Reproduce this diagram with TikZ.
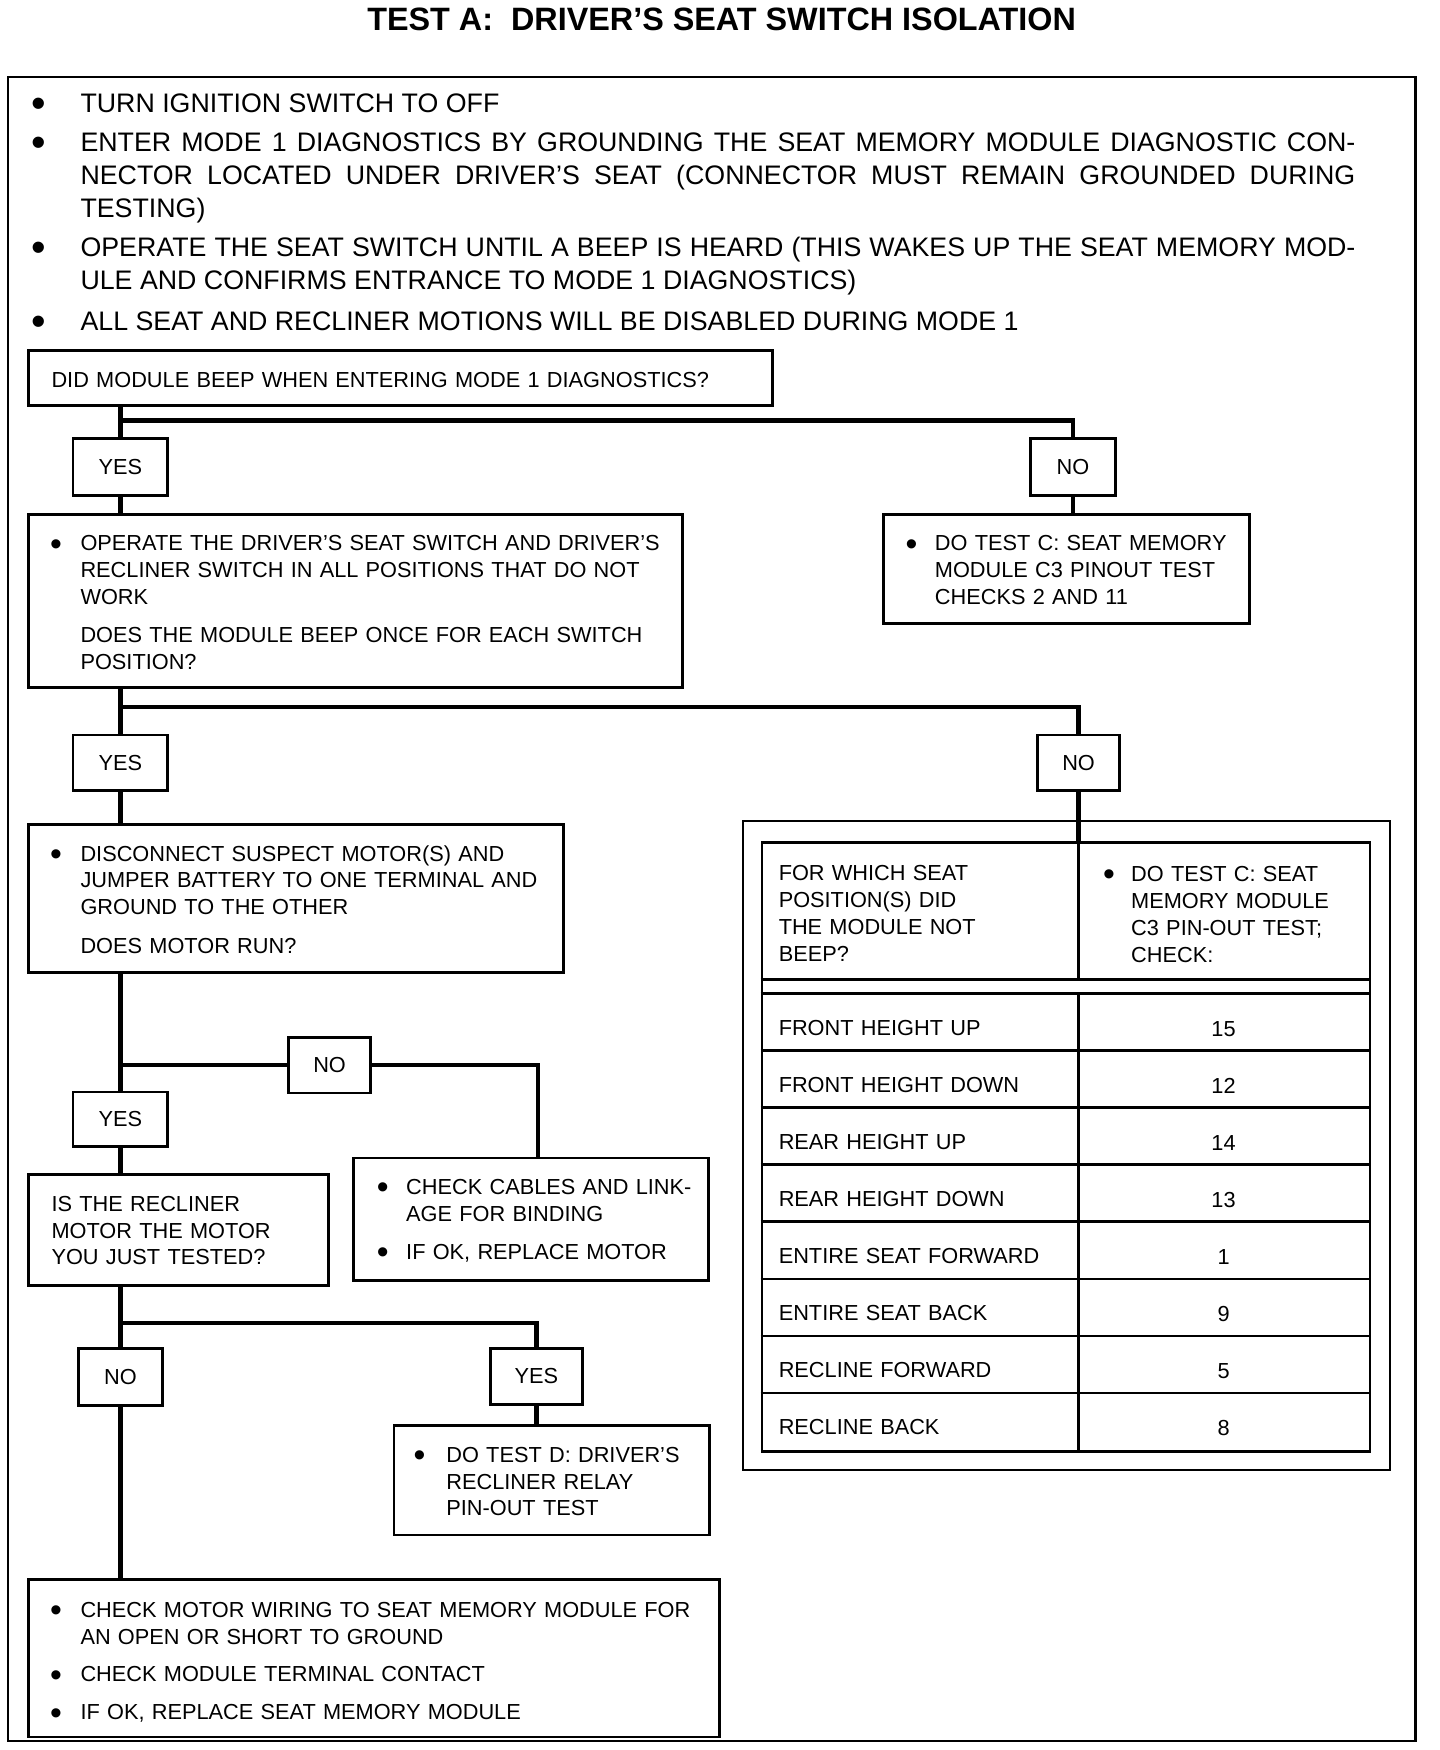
\documentclass[tikz,border=0pt]{standalone}
\usepackage{fontspec}
\usepackage{graphicx}
\setmainfont{Liberation Sans}
\hyphenpenalty=10000
\newcommand\bul[1]{\llap{\makebox[0pt][c]{\raisebox{-0.19em}{\scalebox{1.55}{•}}}\hspace{#1}}}
\begin{document}
\begin{tikzpicture}[x=1pt,y=-1pt,
  frame/.style={draw, line width=2pt, anchor=north west, inner sep=0pt},
  box/.style={draw, line width=2.5pt, anchor=north west, inner sep=0pt},
  lab/.style={draw, line width=2.5pt, anchor=center, inner sep=0pt, font=\fontsize{19.5}{24}\selectfont},
  txt/.style={anchor=base west, inner sep=0pt, text width=#1, align=left, font=\fontsize{19.5}{24}\selectfont},
  txt/.default=600pt,
  body/.style={anchor=base west, inner sep=0pt, text width=1143pt, align=justify, font=\fontsize{24}{29.5}\selectfont},
  conn/.style={line width=4pt},
  tline/.style={line width=2.5pt},
]
\useasboundingbox (0,0) rectangle (1291,1569);

% title
\node[anchor=base, inner sep=0pt, font=\fontsize{29}{34}\selectfont\bfseries] (title) at (647,27) {TEST A:\ \ DRIVER’S SEAT SWITCH ISOLATION};

% page frame
\node[frame, minimum width=1262, minimum height=1492] (page) at (6,68) {};

% introductory bullets
\node[body] (p1) at (72,101) {\bul{37pt}TURN IGNITION SWITCH TO OFF};
\node[body] (p2) at (72,136) {\bul{37pt}ENTER MODE 1 DIAGNOSTICS BY GROUNDING THE SEAT MEMORY MODULE DIAGNOSTIC CON-\linebreak NECTOR LOCATED UNDER DRIVER’S SEAT (CONNECTOR MUST REMAIN GROUNDED DURING\linebreak TESTING)};
\node[body] (p3) at (72,230) {\bul{37pt}OPERATE THE SEAT SWITCH UNTIL A BEEP IS HEARD (THIS WAKES UP THE SEAT MEMORY MOD-\linebreak ULE AND CONFIRMS ENTRANCE TO MODE 1 DIAGNOSTICS)};
\node[body] (p4) at (72,296) {\bul{37pt}ALL SEAT AND RECLINER MOTIONS WILL BE DISABLED DURING MODE 1};

% boxes
\node[box, minimum width=667, minimum height=49] (q1) at (24,313) {};
\node[txt] (q1t) at (46,347) {DID MODULE BEEP WHEN ENTERING MODE 1 DIAGNOSTICS?};

\node[box, minimum width=587, minimum height=155] (b2) at (24,460) {};
\node[txt] (b2t) at (72,494) {\bul{22pt}OPERATE THE DRIVER’S SEAT SWITCH AND DRIVER’S\\RECLINER SWITCH IN ALL POSITIONS THAT DO NOT\\WORK\\[10pt]DOES THE MODULE BEEP ONCE FOR EACH SWITCH\\POSITION?};

\node[box, minimum width=328, minimum height=98] (c1) at (791,460) {};
\node[txt=400pt] (c1t) at (838,494) {\bul{21pt}DO TEST C: SEAT MEMORY\\MODULE C3 PINOUT TEST\\CHECKS 2 AND 11};

\node[box, minimum width=480, minimum height=133] (b3) at (24,738) {};
\node[txt] (b3t) at (72,772) {\bul{22pt}DISCONNECT SUSPECT MOTOR(S) AND\\JUMPER BATTERY TO ONE TERMINAL AND\\GROUND TO THE OTHER\\[11pt]DOES MOTOR RUN?};

\node[box, minimum width=269, minimum height=99] (b4) at (24,1052) {};
\node[txt=400pt] (b4t) at (46,1086) {IS THE RECLINER\\MOTOR THE MOTOR\\YOU JUST TESTED?};

\node[box, minimum width=318, minimum height=110] (k1) at (316,1037) {};
\node[txt=400pt] (k1t) at (364,1071) {\bul{21pt}CHECK CABLES AND LINK-\\AGE FOR BINDING};
\node[txt=400pt] (k1u) at (364,1129) {\bul{21pt}IF OK, REPLACE MOTOR};

\node[box, minimum width=283, minimum height=98] (d1) at (352,1277) {};
\node[txt=400pt] (d1t) at (400,1311) {\bul{24pt}DO TEST D: DRIVER’S\\RECLINER RELAY\\PIN-OUT TEST};

\node[box, minimum width=620, minimum height=141] (f1) at (24,1415) {};
\node[txt] (f1t) at (72,1450) {\bul{22pt}CHECK MOTOR WIRING TO SEAT MEMORY MODULE FOR\\AN OPEN OR SHORT TO GROUND};
\node[txt] (f1u) at (72,1508) {\bul{22pt}CHECK MODULE TERMINAL CONTACT};
\node[txt] (f1v) at (72,1542) {\bul{22pt}IF OK, REPLACE SEAT MEMORY MODULE};

% yes / no labels
\node[lab, minimum width=85, minimum height=51] (y1) at (108,418.5) {YES};
\node[lab, minimum width=76, minimum height=51] (n1) at (962,418.5) {NO};
\node[lab, minimum width=85, minimum height=50] (y2) at (108,684) {YES};
\node[lab, minimum width=73, minimum height=50] (n2) at (967,684) {NO};
\node[lab, minimum width=73, minimum height=50] (n3) at (295.5,955) {NO};
\node[lab, minimum width=85, minimum height=49] (y3) at (108,1003.5) {YES};
\node[lab, minimum width=75, minimum height=51] (n4) at (108,1234.5) {NO};
\node[lab, minimum width=83, minimum height=50] (y4) at (481,1234) {YES};

% table
\node[frame, minimum width=580, minimum height=582] (tout) at (665,735) {};
\node[box, minimum width=545, minimum height=546] (tin) at (682,754) {};
\draw[tline] (967,754) -- (967,878);
\draw[tline] (967,891) -- (967,1300);
\draw[tline] (682,878) -- (1227,878);
\foreach \i in {0,...,7} {
  \draw[tline] (682,{891+51.125*\i}) -- (1227,{891+51.125*\i});
}
\node[txt=260pt, font=\fontsize{19.5}{24.3}\selectfont] (th1) at (698,789) {FOR WHICH SEAT\\POSITION(S) DID\\THE MODULE NOT\\BEEP?};
\node[txt=260pt, font=\fontsize{19.5}{24.3}\selectfont] (th2) at (1014,790) {\bul{20pt}DO TEST C: SEAT\\MEMORY MODULE\\C3 PIN-OUT TEST;\\CHECK:};
\foreach \t/\n [count=\i from 0] in {FRONT HEIGHT UP/15, FRONT HEIGHT DOWN/12, REAR HEIGHT UP/14, REAR HEIGHT DOWN/13, ENTIRE SEAT FORWARD/1, ENTIRE SEAT BACK/9, RECLINE FORWARD/5, RECLINE BACK/8} {
  \node[txt=260pt] (rl\i) at (698,{891+51.125*\i+37}) {\t};
  \node[anchor=base, inner sep=0pt, font=\fontsize{19.5}{24}\selectfont] (rr\i) at (1097,{891+51.125*\i+38}) {\n};
}

% connectors
\coordinate (j1) at (108,377);
\coordinate (j2) at (108,634);
\coordinate (j4) at (108,1186);
\draw[conn] (y1.north |- q1.south) -- (y1.north);
\draw[conn] (j1) -| (n1.north);
\draw[conn] (y1.south) -- (y1.south |- b2.north);
\draw[conn] (n1.south) -- (n1.south |- c1.north);
\draw[conn] (y2.north |- b2.south) -- (y2.north);
\draw[conn] (j2) -| (n2.north);
\draw[conn] (y2.south) -- (y2.south |- b3.north);
\draw[conn] (n2.south) -- (n2.south |- tin.north);
\draw[conn] (y3.north |- b3.south) -- (y3.north);
\draw[conn] (y3.north |- n3.west) -- (n3.west);
\draw[conn] (n3.east) -| ([xshift=6pt]k1.north);
\draw[conn] (y3.south) -- (y3.south |- b4.north);
\draw[conn] (n4.north |- b4.south) -- (n4.north);
\draw[conn] (j4) -| (y4.north);
\draw[conn] (y4.south) -- (y4.south |- d1.north);
\draw[conn] (n4.south) -- (n4.south |- f1.north);
\end{tikzpicture}
\end{document}
